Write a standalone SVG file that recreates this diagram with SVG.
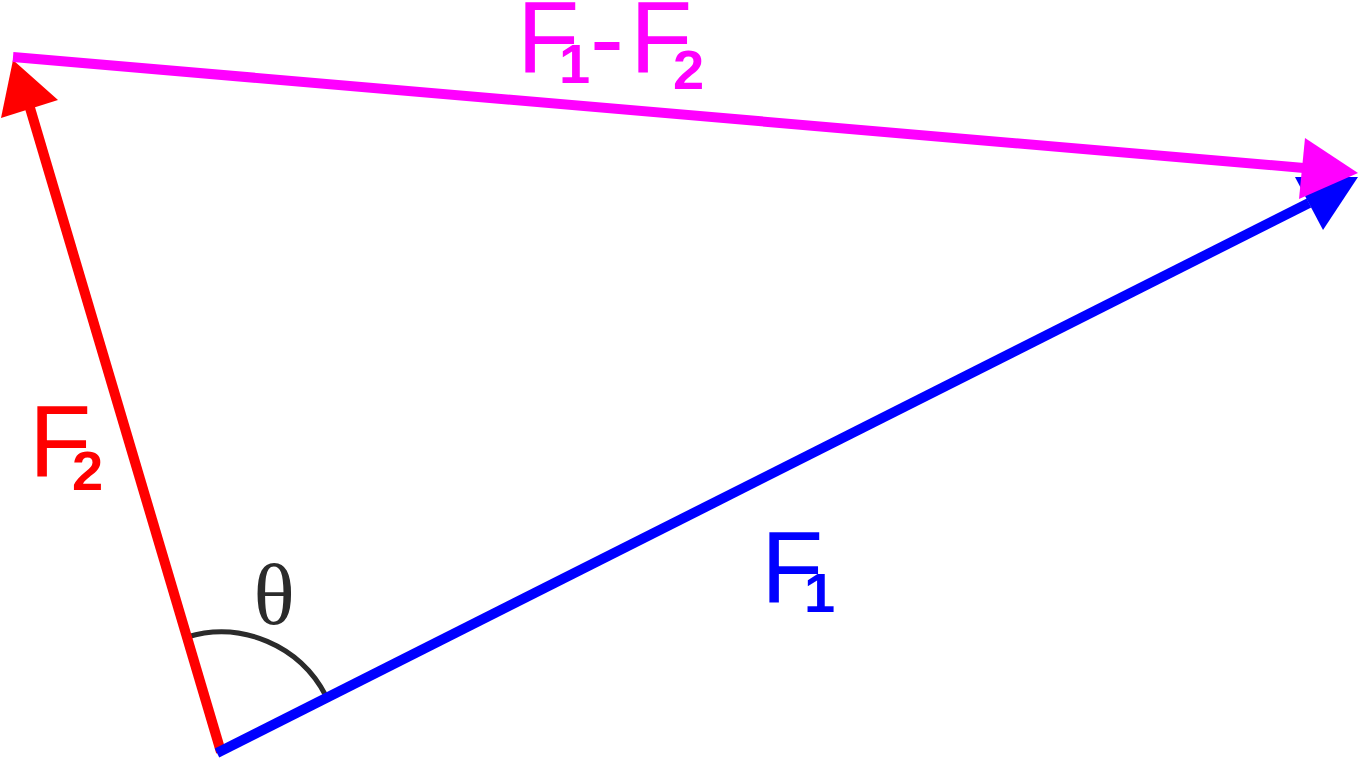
<svg xmlns="http://www.w3.org/2000/svg" width="1359" height="760" viewBox="0 0 1359 760">
<style>
.lbl{font-family:"Liberation Sans",Arial,sans-serif;font-size:102px}
.sub{font-family:"Liberation Sans",Arial,sans-serif;font-size:56px;font-weight:bold}
.red{fill:#ff0000}.blue{fill:#0000ff}.mag{fill:#ff00ff}
</style>
<rect width="1359" height="760" fill="#ffffff"/>
<g id="angle">
<path d="M 187,637 A 118 118 0 0 1 326,696" fill="none" stroke="#2b2b2b" stroke-width="5"/>
<text x="274" y="624" text-anchor="middle" font-family="'Liberation Serif','Times New Roman',serif" font-size="86" fill="#2b2b2b">θ</text>
</g>
<g id="connectors">
<g id="F2-vector">
<line x1="221" y1="752" x2="30" y2="108" stroke="#ff0000" stroke-width="10"/>
<polygon points="13,60 58,100 1,118" fill="#ff0000"/>
</g>
<g id="F1-vector">
<line x1="217" y1="753" x2="1309" y2="203" stroke="#0000ff" stroke-width="10"/>
<polygon points="1358,177 1323,230 1295,177" fill="#0000ff"/>
</g>
<g id="F1-F2-vector">
<line x1="13" y1="57" x2="1304" y2="168" stroke="#ff00ff" stroke-width="10"/>
<polygon points="1358,173 1299,199 1305,138" fill="#ff00ff"/>
</g>
</g>
<g id="label-F2">
<text class="lbl red" x="29" y="477">F</text>
<text class="sub red" x="72" y="490">2</text>
</g>
<g id="label-F1">
<text class="lbl blue" x="761" y="603">F</text>
<text class="sub blue" x="804" y="612">1</text>
</g>
<g id="label-F1-F2">
<text class="lbl mag" x="517" y="73">F</text>
<text class="sub mag" x="559" y="83">1</text>
<text class="lbl mag" x="590" y="73">-</text>
<text class="lbl mag" x="630" y="73">F</text>
<text class="sub mag" x="673" y="89">2</text>
</g>
</svg>
